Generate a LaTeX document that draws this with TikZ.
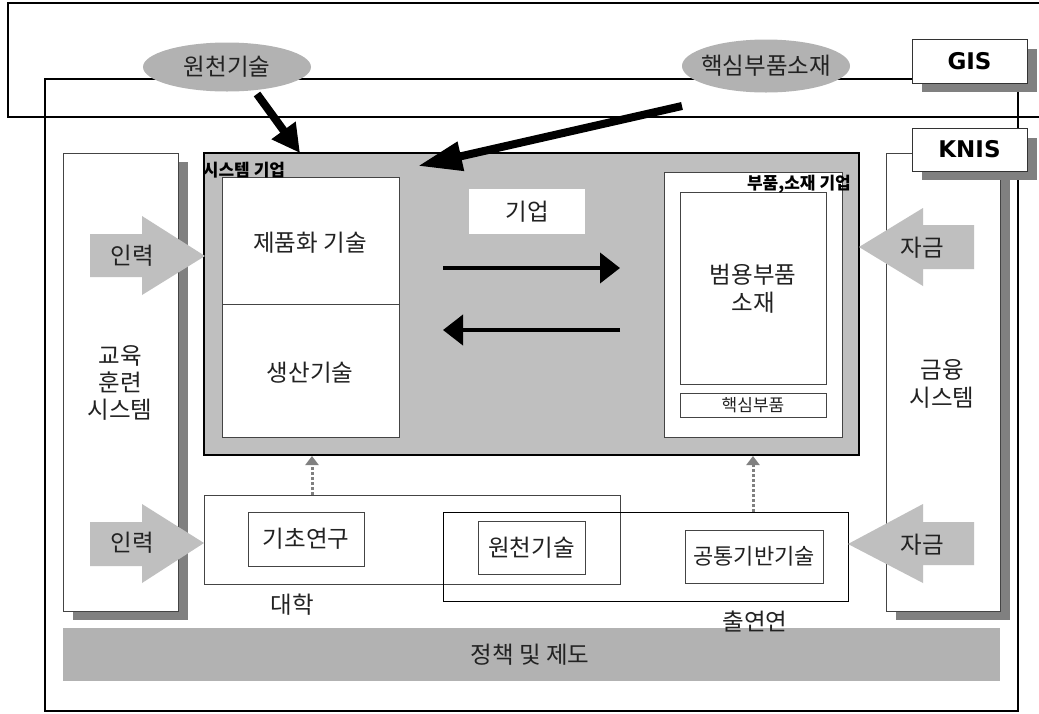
\documentclass[tikz,border=0pt]{standalone}
\usepackage{fontspec}
\usetikzlibrary{arrows.meta,fit,shapes.geometric}
\newfontfamily\kr{Noto Sans CJK KR}
\newfontfamily\lat{DejaVu Sans}
\definecolor{txtc}{HTML}{222222}
\definecolor{boxline}{HTML}{444444}
\tikzset{
  txt/.style={font=\kr\fontsize{23.5}{27}\selectfont, text=txtc, inner sep=0pt, align=center},
  smalltxt/.style={font=\kr\fontsize{17}{18}\selectfont, text=txtc, inner sep=0pt, align=center},
  boldlab/.style={font=\kr\bfseries\fontsize{17}{18}\selectfont, text=black, inner sep=0pt},
  box/.style={draw=boxline, line width=0.9pt, fill=white, inner sep=0pt},
  openbox/.style={draw=boxline, line width=0.9pt, inner sep=0pt},
  outerline/.style={draw=black, line width=2.5pt},
  shadowc/.style={fill=black!50},
  blockar/.style={fill=black!25},
  sysbox/.style={draw=black, line width=2pt, fill=black!25, inner sep=0pt},
  ell/.style={ellipse, fill=black!30, inner sep=0pt},
  labbox/.style={draw=black!80, line width=1pt, fill=white, inner sep=0pt},
  labtxt/.style={font=\lat\bfseries\fontsize{23}{24}\selectfont, inner sep=0pt},
  fatarrow/.style={draw=black, line width=8pt, -{Triangle[length=28pt,width=28pt]}},
  fatarrowlong/.style={draw=black, line width=8pt, -{Triangle[length=44pt,width=28pt]}},
  medarrow/.style={draw=black, line width=4pt, -{Triangle[length=20pt,width=30pt]}},
  dotarrow/.style={draw=black!50, line width=3pt, dash pattern=on 3pt off 2pt, -{Triangle[length=9pt,width=13pt]}},
}
\begin{document}
\begin{tikzpicture}[x=1pt,y=-1pt]
\useasboundingbox (0,0) rectangle (1039,713);
% GIS and KNIS outer frames
\draw[outerline] (1050,3) -- (8,3) -- (8,117) -- (1050,117);
\draw[outerline] (45,79) rectangle (1018,711);

% ellipses
\node[ell, minimum width=168, minimum height=49] (e1) at (227,67) {};
\node[txt] (e1t) at (e1.center) {원천기술};
\node[ell, minimum width=168, minimum height=53] (e2) at (766,66) {};
\node[txt] (e2t) at (e2.center) {핵심부품소재};

% education and finance systems
\fill[shadowc] (73,162) rectangle (188,620);
\node[box, fit={(63,153) (178,611)}] (edu) {};
\node[txt] (edut) at (120,383) {교육\\훈련\\시스템};
\fill[shadowc] (896,162) rectangle (1010,620);
\node[box, fit={(886,153) (1000,611)}] (fin) {};
\node[txt, font=\kr\fontsize{23.5}{28}\selectfont] (fint) at (942,384) {금융\\시스템};

% label boxes
\fill[shadowc] (922,49) rectangle (1037,92);
\node[labbox, fit={(912,39) (1027,83)}] (gis) {};
\node[labtxt] (gist) at (gis.center) {GIS};
\fill[shadowc] (922,138) rectangle (1037,180);
\node[labbox, fit={(912,128) (1027,171)}] (knis) {};
\node[labtxt] (knist) at (knis.center) {KNIS};

% system enterprise
\node[sysbox, fit={(204,153) (859,455)}] (sys) {};
\node[box, fit={(222,177) (399,304)}] (prod) {};
\node[txt] (prodt) at (310,243) {제품화 기술};
\node[box, fit={(222,304) (399,437)}] (mfg) {};
\node[txt] (mfgt) at (310,373) {생산기술};
\node[boldlab] (syslab) at (244,170) {시스템 기업};

\node[fill=white, inner sep=0pt, fit={(469,189) (585,234)}] (firm) {};
\node[txt] (firmt) at (firm.center) {기업};

\node[box, fit={(664,172) (842,437)}] (parts) {};
\node[box, fit={(680,192) (826,384)}] (gen) {};
\node[txt, font=\kr\fontsize{23.5}{28}\selectfont] (gent) at (753,289) {범용부품\\소재};
\node[box, fit={(680,393) (826,417)}] (core) {};
\node[smalltxt] (coret) at (core.center) {핵심부품};
\node[boldlab, anchor=east] (partslab) at (851,184) {부품,소재 기업};

% horizontal arrows
\coordinate (h1s) at (443,268);
\coordinate (h1e) at (620,268);
\coordinate (h2s) at (620,330);
\coordinate (h2e) at (443,330);
\draw[medarrow] (h1s) -- (h1e);
\draw[medarrow] (h2s) -- (h2e);

% university and research institutes
\node[openbox, fit={(204,495) (620,584)}] (univ) {};
\node[openbox, draw=black, fit={(443,512) (848,601)}] (gri) {};
\node[box, fit={(248,512) (364,566)}] (basic) {};
\node[txt] (basict) at (basic.center) {기초연구};
\node[box, fit={(478,521) (585,574)}] (orig) {};
\node[txt] (origt) at (orig.center) {원천기술};
\node[box, fit={(685,530) (823,583)}] (common) {};
\node[txt, font=\kr\fontsize{22}{27}\selectfont] (commont) at (common.center) {공통기반기술};
\node[txt] (univt) at (292,605) {대학};

% dotted arrows
\coordinate (d1s) at (312,495);
\coordinate (d1e) at (312,456);
\coordinate (d2s) at (753,512);
\coordinate (d2e) at (753,456);
\draw[dotarrow] (d1s) -- (d1e);
\draw[dotarrow] (d2s) -- (d2e);

% block arrows
\fill[blockar] (90,234) -- (142,234) -- (142,216) -- (205,256) -- (142,295) -- (142,277) -- (90,277) -- cycle;
\node[txt] (in1) at (132,256) {인력};
\fill[blockar] (90,522) -- (142,522) -- (142,504) -- (204,543) -- (142,583) -- (142,566) -- (90,566) -- cycle;
\node[txt] (in2) at (132,543) {인력};
\fill[blockar] (974,225) -- (923,225) -- (923,208) -- (859,247) -- (923,286) -- (923,269) -- (974,269) -- cycle;
\node[txt] (fund1) at (922,248) {자금};
\fill[blockar] (974,522) -- (923,522) -- (923,504) -- (848,544) -- (923,583) -- (923,565) -- (974,565) -- cycle;
\node[txt] (fund2) at (922,545) {자금};

% policy bar
\node[fill=black!30, inner sep=0pt, fit={(63,628) (1000,681)}] (policy) {};
\node[txt] (policyt) at (530,655) {정책 및 제도};
\node[txt] (grit) at (755,622) {출연연};

% thick arrows from the ellipses
\coordinate (t1s) at (257,94);
\coordinate (t1e) at (300,153);
\coordinate (t2s) at (682,106);
\coordinate (t2e) at (418,166);
\draw[fatarrow] (t1s) -- (t1e);
\draw[fatarrowlong] (t2s) -- (t2e);
\end{tikzpicture}
\end{document}
